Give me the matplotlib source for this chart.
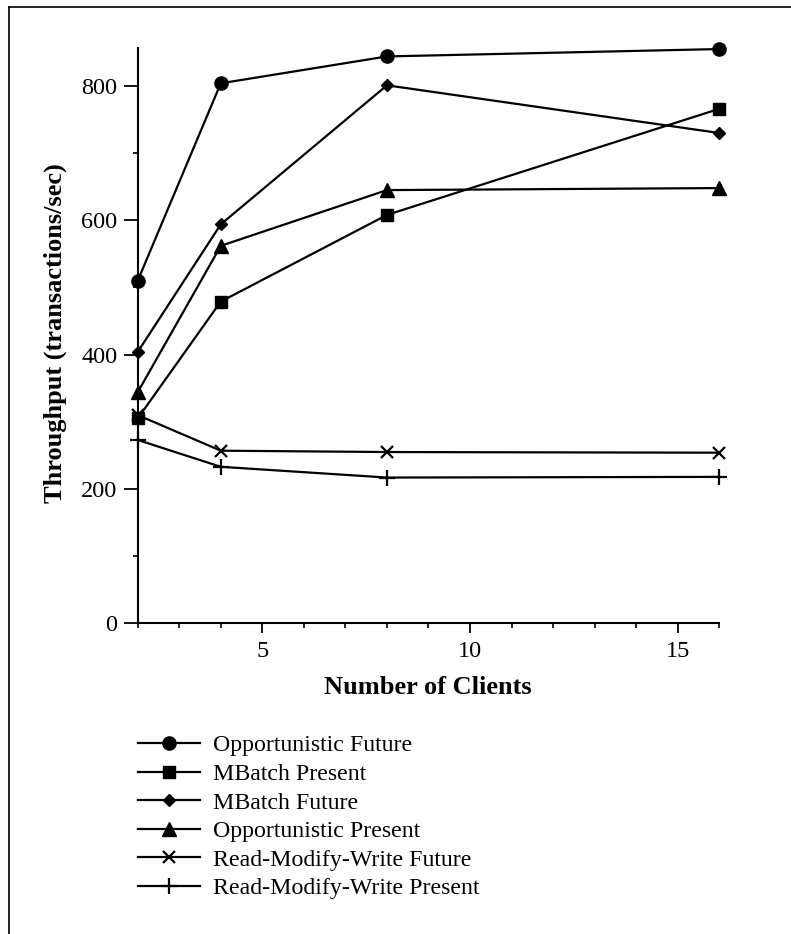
import matplotlib
matplotlib.use("Agg")
import matplotlib.pyplot as plt
from matplotlib.ticker import MultipleLocator, FixedLocator
from matplotlib.lines import Line2D

plt.rcParams['font.family'] = ['Liberation Serif', 'DejaVu Serif']

clients = [2, 4, 8, 16]
opportunistic_future = [510, 804, 844, 855]
mbatch_present = [305, 479, 608, 766]
mbatch_future = [404, 594, 801, 730]
opportunistic_present = [344, 562, 645, 648]
rmw_future = [310, 257, 255, 254]
rmw_present = [273, 233, 217, 218]

series = [
    ("Opportunistic Future", opportunistic_future, 'o', 9.5),
    ("MBatch Present", mbatch_present, 's', 8.5),
    ("MBatch Future", mbatch_future, 'D', 6.2),
    ("Opportunistic Present", opportunistic_present, '^', 9.5),
    ("Read-Modify-Write Future", rmw_future, 'x', 9),
    ("Read-Modify-Write Present", rmw_present, '+', 11),
]

fig = plt.figure(figsize=(7.91, 9.34), dpi=100)
W, H = 791, 934
x0, x1 = 137.7, 719.3
ytop, ybot = 47.7, 623.3
ax = fig.add_axes([x0 / W, 1 - ybot / H, (x1 - x0) / W, (ybot - ytop) / H])

for label, vals, m, ms in series:
    ax.plot(clients, vals, color='black', lw=1.6, marker=m, markersize=ms,
            markeredgewidth=1.6 if m in ('x', '+') else 1.0, label=label,
            clip_on=False)

ax.set_xlim(2, 16)
ax.set_ylim(0, 857)
for s in ('top', 'right'):
    ax.spines[s].set_visible(False)
for s in ('left', 'bottom'):
    ax.spines[s].set_linewidth(1.5)

ax.xaxis.set_major_locator(FixedLocator([5, 10, 15]))
ax.xaxis.set_minor_locator(MultipleLocator(1))
ax.yaxis.set_major_locator(FixedLocator([0, 200, 400, 600, 800]))
ax.yaxis.set_minor_locator(FixedLocator([100, 300, 500, 700]))
ax.tick_params(axis='x', which='major', direction='out', length=7.5, width=1.3, pad=5, labelsize=17.5)
ax.tick_params(axis='y', which='major', direction='out', length=9.8, width=1.3, pad=5, labelsize=17.5)
ax.tick_params(which='minor', direction='out', length=3.6, width=1.2)

fig.text(428 / W, 1 - 687 / H, "Number of Clients", ha='center', va='center',
         fontsize=19, fontweight='bold')
fig.text(55 / W, 1 - 333 / H, "Throughput (transactions/sec)", ha='center', va='center',
         rotation=90, fontsize=19, fontweight='bold')

handles, labels = ax.get_legend_handles_labels()
fig.legend(handles, labels, loc='upper left', bbox_to_anchor=(138 / W, 1 - 734.5 / H),
           frameon=False, fontsize=17.2, borderpad=0, borderaxespad=0,
           handlelength=2.6, handletextpad=0.55, labelspacing=0.29)

# figure border (left and top edges)
fig.add_artist(Line2D([9 / W, 9 / W], [0, 1 - 7 / H], color='black', lw=1.2,
                      transform=fig.transFigure))
fig.add_artist(Line2D([9 / W, 1], [1 - 7 / H, 1 - 7 / H], color='black', lw=1.2,
                      transform=fig.transFigure))

fig.savefig("out.png", dpi=100)
